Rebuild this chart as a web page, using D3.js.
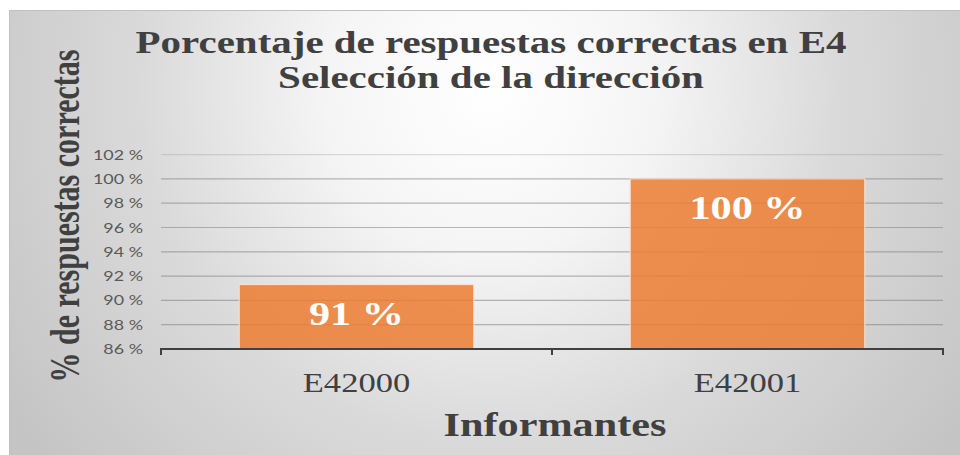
<!DOCTYPE html>
<html><head><meta charset="utf-8">
<script src="https://cdn.jsdelivr.net/npm/d3@7"></script>
<style>html,body{margin:0;padding:0;background:#fff;}svg{display:block;}</style>
</head><body>
<script>
const categories = ["E42000", "E42001"];
const values = [91.3, 100];
const valueLabels = ["91 %", "100 %"];
const yTicks = [86, 88, 90, 92, 94, 96, 98, 100, 102];
const titleLines = ["Porcentaje de respuestas correctas en E4", "Selección de la dirección"];
const yTitle = "% de respuestas correctas";
const xTitle = "Informantes";

(function () {
const W = 960, H = 455, SX = 1.28;
const svg = d3.select("body").append("svg").attr("width", W).attr("height", H);
const defs = svg.append("defs");
const g = defs.append("radialGradient").attr("id", "bg")
  .attr("gradientUnits", "userSpaceOnUse").attr("cx", 490).attr("cy", 90).attr("r", 580);
[[0, "#ffffff"], [0.28, "#f5f5f5"], [0.6, "#dadada"], [1, "#c4c4c4"]]
  .forEach(([o, c]) => g.append("stop").attr("offset", o).attr("stop-color", c));

svg.append("rect").attr("x", 9.5).attr("y", 10.5).attr("width", W).attr("height", H)
  .attr("fill", "url(#bg)").attr("stroke", "#c0c0c0");

const pL = 161, pR = 943, pT = 154.6, pB = 349;
const x = d3.scaleBand().domain(categories).range([pL, pR]).paddingInner(0.4).paddingOuter(0.2);
const y = d3.scaleLinear().domain([86, 102]).range([pB, pT]);

svg.append("g").selectAll("line").data(yTicks.filter(t => t > 86)).join("line")
  .attr("x1", pL).attr("x2", pR)
  .attr("y1", d => y(d)).attr("y2", d => y(d))
  .attr("stroke", "#7f7f7f").attr("stroke-opacity", d => d === 102 ? 0.25 : 0.55).attr("stroke-width", 1.2);

svg.append("g").selectAll("text").data(yTicks).join("text")
  .attr("transform", d => `translate(143,${y(d)}) scale(${SX},1)`)
  .attr("text-anchor", "end").attr("dy", "0.36em")
  .attr("font-family", "Lato, 'Open Sans', sans-serif").attr("font-size", 14)
  .attr("fill", "#595959").text(d => d + " %");

svg.append("g").selectAll("rect").data(values).join("rect")
  .attr("x", (d, i) => x(categories[i])).attr("width", x.bandwidth())
  .attr("y", d => y(d)).attr("height", d => pB - y(d))
  .attr("fill", "#ED7D31").attr("fill-opacity", 0.85)
  .attr("stroke", "#fbe3d2").attr("stroke-width", 1);

svg.append("g").selectAll("text").data(values).join("text")
  .attr("transform", (d, i) => `translate(${x(categories[i]) + x.bandwidth() / 2},${y(d) + 40}) scale(${SX},1)`)
  .attr("text-anchor", "middle")
  .attr("font-family", "'Liberation Serif', serif").attr("font-weight", "bold").attr("font-size", 33)
  .attr("fill", "#ffffff").text((d, i) => valueLabels[i]);

const ax = svg.append("g").attr("stroke", "#404040").attr("stroke-width", 2);
ax.append("line").attr("x1", pL).attr("x2", pR).attr("y1", pB).attr("y2", pB);
const tickXs = [pL].concat(categories.map(c => x(c) + x.bandwidth() / 2 + x.step() / 2));
tickXs[tickXs.length - 1] = pR;
ax.selectAll("line.t").data(tickXs).join("line").attr("class", "t")
  .attr("x1", d => d).attr("x2", d => d).attr("y1", pB - 1).attr("y2", pB + 6);

svg.append("g").selectAll("text").data(categories).join("text")
  .attr("transform", d => `translate(${x(d) + x.bandwidth() / 2},392) scale(${SX},1)`)
  .attr("text-anchor", "middle")
  .attr("font-family", "'Liberation Serif', serif").attr("font-size", 27)
  .attr("fill", "#404040").text(d => d);

svg.append("g").selectAll("text").data(titleLines).join("text")
  .attr("transform", (d, i) => `translate(491,${i === 0 ? 53 : 88}) scale(${SX},1)`)
  .attr("text-anchor", "middle")
  .attr("font-family", "'Liberation Serif', serif").attr("font-weight", "bold").attr("font-size", 32)
  .attr("fill", "#404040").text(d => d);

svg.append("text")
  .attr("transform", `translate(555,436) scale(${SX},1)`)
  .attr("text-anchor", "middle")
  .attr("font-family", "'Liberation Serif', serif").attr("font-weight", "bold").attr("font-size", 33)
  .attr("fill", "#404040").text(xTitle);

svg.append("text")
  .attr("transform", `translate(79,216) scale(1.4,1) rotate(-90)`)
  .attr("text-anchor", "middle")
  .attr("font-family", "'Liberation Serif', serif").attr("font-weight", "bold").attr("font-size", 30)
  .attr("fill", "#404040").text(yTitle);
})();
</script>
</body></html>
